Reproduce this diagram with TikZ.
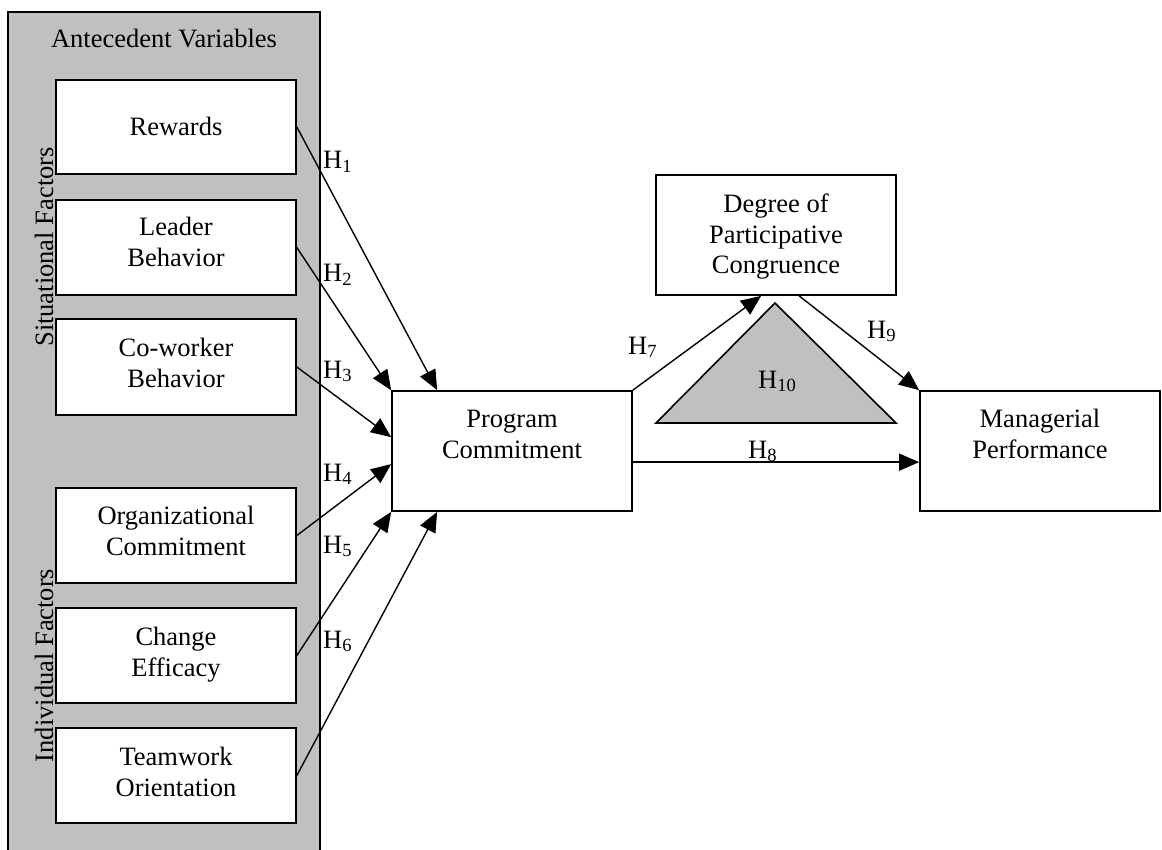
\documentclass[tikz,border=0pt]{standalone}
\usepackage{fontspec}
\setmainfont{Liberation Serif}
\usetikzlibrary{arrows.meta,calc}
\definecolor{panelgray}{RGB}{192,192,192}
\newcommand\mlines[1]{\begin{tabular}[t]{@{}c@{}}#1\end{tabular}}
\begin{document}
\begin{tikzpicture}[x=1pt,y=-1pt,
  every node/.style={font=\fontsize{26.5}{30.7}\selectfont},
  box/.style={draw, line width=1.7pt, fill=white, minimum width=240pt,
    inner sep=0pt, text height=18pt, text depth=#1},
  lab/.style={inner sep=0pt, anchor=base west},
  arr/.style={line width=1.4pt, -{Triangle[length=20pt,width=17pt]}},
  panel/.style={draw, line width=1.8pt, fill=panelgray},
  tri/.style={draw, line width=1.6pt, fill=panelgray, line join=miter}
]
\useasboundingbox (0,0) rectangle (1162,850);

% antecedent panel
\draw[panel] (8,12) rectangle (320,860);
\node[anchor=base] (ant) at (164,48) {Antecedent Variables};
\node[rotate=90, anchor=base] (sit) at (53,247) {Situational Factors};
\node[rotate=90, anchor=base] (ind) at (53,665.5) {Individual Factors};

% left boxes
\node[box=1pt,  minimum height=94pt] (rew)  at (176,127)   {Rewards};
\node[box=42pt, minimum height=95pt] (lead) at (176,247.5) {\mlines{Leader\\Behavior}};
\node[box=39pt, minimum height=96pt] (cow)  at (176,367)   {\mlines{Co-worker\\Behavior}};
\node[box=40pt, minimum height=95pt] (org)  at (176,535.5) {\mlines{Organizational\\Commitment}};
\node[box=38pt, minimum height=95pt] (chg)  at (176,655.5) {\mlines{Change\\Efficacy}};
\node[box=38pt, minimum height=95pt] (team) at (176,775.5) {\mlines{Teamwork\\Orientation}};

% right boxes
\node[box=65pt, minimum height=120pt] (pc)  at (512,451)  {\mlines{Program\\Commitment}};
\node[box=63pt, minimum height=120pt] (deg) at (776,235)  {\mlines{Degree of\\Participative\\Congruence}};
\node[box=65pt, minimum height=120pt] (mp)  at (1040,451) {\mlines{Managerial\\Performance}};

% moderation triangle
\coordinate (tl) at (656,423);
\coordinate (tt) at (775,303);
\coordinate (tr) at (896,423);
\draw[tri] (tl) -- (tt) -- (tr) -- cycle;
\node[lab] (h10) at (758,388) {H\textsubscript{10}};

% arrows
\draw[arr] (rew.east)  -- ([xshift=46pt]pc.north west);
\draw[arr] (lead.east) -- (pc.north west);
\draw[arr] (cow.east)  -- ([yshift=-47pt]pc.north west);
\draw[arr] (org.east)  -- ([yshift=-74pt]pc.north west);
\draw[arr] (chg.east)  -- (pc.south west);
\draw[arr] (team.east) -- ([xshift=46pt]pc.south west);
\draw[arr] (pc.north east) -- ([xshift=106pt]deg.south west);
\draw[arr] ([xshift=144pt]deg.south west) -- (mp.north west);
\draw[arr] ([yshift=-72pt]pc.north east) -- ([yshift=-72pt]mp.north west);

% labels
\node[lab] (h1) at (323,169) {H\textsubscript{1}};
\node[lab] (h2) at (323,282) {H\textsubscript{2}};
\node[lab] (h3) at (323,378) {H\textsubscript{3}};
\node[lab] (h4) at (323,481) {H\textsubscript{4}};
\node[lab] (h5) at (323,553) {H\textsubscript{5}};
\node[lab] (h6) at (323,648) {H\textsubscript{6}};
\node[lab] (h7) at (628,354) {H\textsubscript{7}};
\node[lab] (h8) at (748,458) {H\textsubscript{8}};
\node[lab] (h9) at (867,338) {H\textsubscript{9}};
\end{tikzpicture}
\end{document}
